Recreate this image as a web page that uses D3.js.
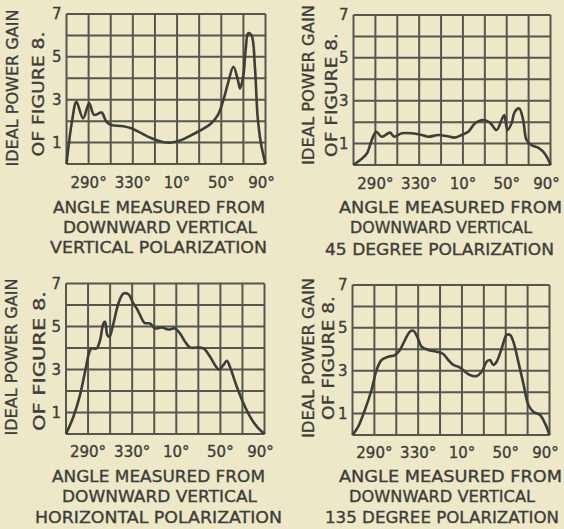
<!DOCTYPE html>
<html>
<head>
<meta charset="utf-8">
<script src="https://cdn.jsdelivr.net/npm/d3@7"></script>
<style>
  body { margin: 0; background: #ece8c8; }
  svg { display: block; }
  text { font-family: "DejaVu Sans", sans-serif; fill: #3e3e38; stroke: #3e3e38; stroke-width: 0.35px; }
</style>
</head>
<body>
<svg id="chart" width="564" height="529"></svg>
<script>
// angle from downward vertical, -90..90 (270deg..90deg)
var tickAngles = [-70, -30, 10, 50, 90];
var tickLabels = ['290°', '330°', '10°', '50°', '90°'];
var gainTicks = [1, 3, 5, 7];

var vertAngles = [-90, -85, -81, -75, -69.5, -65, -58.3, -54, -49.3, -40, -31, -22, -13, -4, 5, 14, 23, 32, 41, 47, 52, 56, 61, 65, 67, 70, 72, 74.4, 77.4, 80.4, 82.9, 85.9, 90];
var vertGain   = [0, 2.0, 2.9, 2.13, 2.83, 2.29, 2.4, 1.98, 1.82, 1.77, 1.66, 1.43, 1.2, 1.04, 1.0, 1.12, 1.35, 1.59, 1.9, 2.29, 3.0, 3.76, 4.54, 3.92, 3.53, 4.15, 5.3, 6.1, 6.0, 4.54, 2.2, 0.96, 0];

var deg45Angles = [-90, -83.9, -77.8, -73.3, -69.3, -64.2, -56.6, -52.9, -45.9, -36.8, -27.7, -21.6, -12.5, -4.9, 2.7, 8.8, 14.9, 20.9, 28.5, 34.6, 40.7, 45.3, 47.7, 50.7, 54.4, 57.4, 61.4, 65, 68.1, 72.6, 78.7, 83.3, 87.9, 90];
var deg45Gain   = [0, 0.23, 0.54, 1.17, 1.55, 1.32, 1.51, 1.32, 1.48, 1.48, 1.4, 1.32, 1.4, 1.35, 1.28, 1.4, 1.55, 1.94, 2.1, 1.98, 1.63, 2.1, 2.33, 1.63, 1.94, 2.49, 2.64, 2.1, 1.17, 0.93, 0.81, 0.62, 0.26, 0];

var horizAngles = [-90, -83.3, -77.3, -72.1, -68.8, -66.7, -62.2, -59.1, -56.1, -54.6, -52.5, -50.7, -47, -42.5, -38, -33.4, -28.9, -25.9, -22.8, -18.9, -13.8, -9.2, -3.2, 2.9, 8.9, 13.5, 18, 22.6, 28.6, 34.7, 40.7, 45.2, 48.9, 52.6, 55.8, 58.6, 64.9, 71, 77, 83.1, 90];
var horizGain   = [0, 0.8, 1.81, 3.05, 3.82, 3.98, 3.98, 4.37, 5.14, 5.22, 4.6, 4.52, 5.14, 6.07, 6.53, 6.5, 6.07, 5.84, 5.53, 5.17, 5.14, 4.91, 4.95, 4.86, 4.91, 4.67, 4.29, 4.02, 4.02, 3.98, 3.59, 3.2, 3.0, 3.2, 3.41, 3.13, 2.2, 1.42, 0.8, 0.34, 0];

var deg135Angles = [-90, -84.8, -78.7, -72.6, -68, -63.5, -57.4, -51.3, -46.7, -42.1, -37.6, -34.5, -30.9, -26.9, -20.8, -13.2, -7.1, -2.5, 2.1, 6.6, 11.2, 17.3, 23.4, 28, 32.6, 35.6, 38.7, 41.7, 46.3, 50.9, 53.9, 57, 61.5, 66.1, 70.7, 75.2, 81.3, 85.9, 90];
var deg135Gain   = [0, 0.39, 1.17, 2.1, 3.03, 3.5, 3.65, 3.73, 3.97, 4.43, 4.82, 4.87, 4.59, 4.12, 3.97, 3.89, 3.78, 3.5, 3.27, 3.19, 3.03, 2.8, 2.75, 2.95, 3.42, 3.5, 3.27, 3.42, 4.04, 4.67, 4.67, 4.35, 3.42, 2.41, 1.4, 1.09, 0.93, 0.54, 0];

var axisTitle = ['ANGLE MEASURED FROM', 'DOWNWARD VERTICAL'];
var gainTitle = ['IDEAL POWER GAIN', 'OF FIGURE 8.'];
var polarTitles = ['VERTICAL POLARIZATION', '45 DEGREE POLARIZATION', 'HORIZONTAL POLARIZATION', '135 DEGREE POLARIZATION'];

var svg = d3.select('#chart');
var ink = '#3e3e38', gridInk = '#56564e';

var panels = [
    { angles: vertAngles, gain: vertGain, title: polarTitles[0],
      x0: 66.5, x1: 265.5, y0: 14, y1: 164, tickY: 188,
      lines: [[53, 265, 213], [63, 257, 233], [50, 267, 253]],
      gLab: [[12, 88, 157], [38, 94, 125]] },
    { angles: deg45Angles, gain: deg45Gain, title: polarTitles[1],
      x0: 353.5, x1: 550.5, y0: 15, y1: 165, tickY: 189,
      lines: [[339, 562, 213], [350, 532, 233], [325, 554, 255]],
      gLab: [[308, 85, 160], [331, 95, 124]] },
    { angles: horizAngles, gain: horizGain, title: polarTitles[2],
      x0: 66, x1: 264.5, y0: 283.5, y1: 434, tickY: 457,
      lines: [[52, 265, 482], [62, 257, 502], [35, 282, 523]],
      gLab: [[11, 357, 157], [39, 361, 140]] },
    { angles: deg135Angles, gain: deg135Gain, title: polarTitles[3],
      x0: 352.5, x1: 549.5, y0: 285, y1: 435, tickY: 458,
      lines: [[339, 562, 482], [349, 535, 502], [325, 559, 523]],
      gLab: [[308, 358, 160], [328, 358, 124]] }
];

panels.forEach(function(p) {
    var x = d3.scaleLinear().domain([-90, 90]).range([p.x0, p.x1]);
    var y = d3.scaleLinear().domain([0, 7]).range([p.y1, p.y0]);
    var g = svg.append('g');

    g.selectAll('.v')
        .data(d3.range(-90, 91, 20))
        .enter().append('line')
        .attr('x1', function(d) { return x(d); })
        .attr('x2', function(d) { return x(d); })
        .attr('y1', y(0)).attr('y2', y(7))
        .attr('stroke', gridInk).attr('stroke-width', 2);

    g.selectAll('.h')
        .data(d3.range(0, 8))
        .enter().append('line')
        .attr('y1', function(d) { return y(d); })
        .attr('y2', function(d) { return y(d); })
        .attr('x1', x(-90)).attr('x2', x(90))
        .attr('stroke', gridInk).attr('stroke-width', 2);

    var pts = p.angles.map(function(a, i) { return [a, p.gain[i]]; });
    var line = d3.line()
        .x(function(d) { return x(d[0]); })
        .y(function(d) { return y(d[1]); })
        .curve(d3.curveCatmullRom.alpha(0.5));

    g.append('path')
        .attr('d', line(pts))
        .attr('fill', 'none')
        .attr('stroke', ink)
        .attr('stroke-width', 2.6)
        .attr('stroke-linejoin', 'round');

    g.selectAll('.gt')
        .data(gainTicks)
        .enter().append('text')
        .attr('x', x(-90) - 5)
        .attr('y', function(d) { return y(d); })
        .attr('dy', '0.36em')
        .attr('text-anchor', 'end')
        .style('font-size', '15px')
        .text(function(d) { return d; });

    g.selectAll('.at')
        .data(tickAngles)
        .enter().append('text')
        .attr('x', function(d) { return x(d) - (d == 90 ? 4 : 0); })
        .attr('y', p.tickY)
        .attr('text-anchor', 'middle')
        .style('font-size', '15px')
        .text(function(d, i) { return tickLabels[i]; });

    var texts = [axisTitle[0], axisTitle[1], p.title];
    p.lines.forEach(function(l, i) {
        g.append('text')
            .attr('x', l[0]).attr('y', l[2])
            .attr('textLength', l[1] - l[0])
            .attr('lengthAdjust', 'spacingAndGlyphs')
            .style('font-size', '16px')
            .text(texts[i]);
    });

    p.gLab.forEach(function(l, i) {
        g.append('text')
            .attr('transform', 'translate(' + l[0] + ',' + l[1] + ') rotate(-90)')
            .attr('text-anchor', 'middle')
            .attr('dy', '0.36em')
            .attr('textLength', l[2])
            .attr('lengthAdjust', 'spacingAndGlyphs')
            .style('font-size', '16px')
            .text(gainTitle[i]);
    });
});
</script>
</body>
</html>
